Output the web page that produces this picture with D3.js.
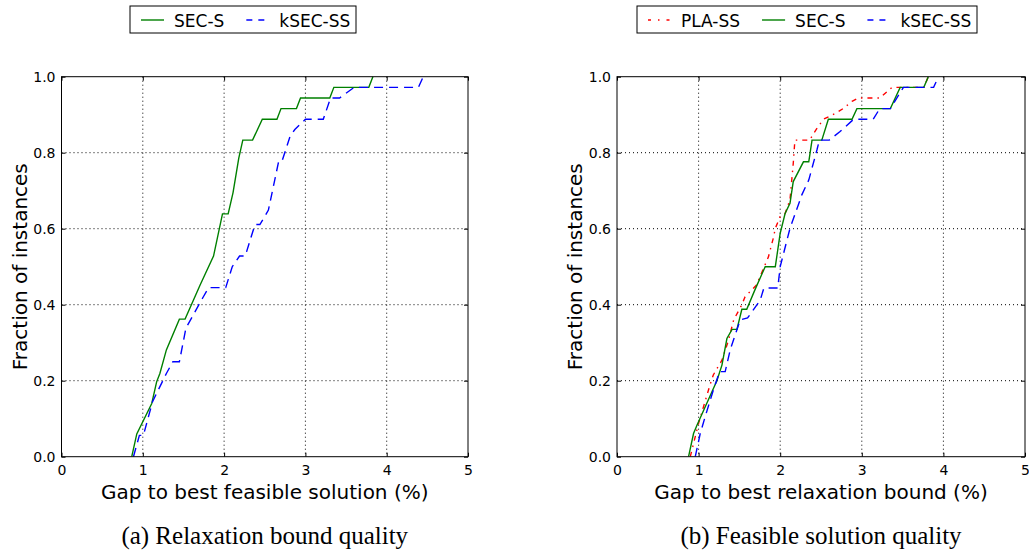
<!DOCTYPE html>
<html><head><meta charset="utf-8">
<script src="https://cdn.jsdelivr.net/npm/d3@7"></script>
<style>body{margin:0;background:#fff}svg{display:block}</style>
</head><body>
<svg id="c" width="1029" height="551"></svg>
<script>
// ---- data ----
const xTicks = [0, 1, 2, 3, 4, 5];
const yTicks = [0.0, 0.2, 0.4, 0.6, 0.8, 1.0];

// Panel (a)
const aSECS = [[0.864,0],[0.926,0.06],[1.11,0.14],[1.17,0.197],[1.21,0.219],[1.29,0.281],[1.45,0.362],[1.52,0.362],[1.705,0.452],[1.87,0.528],[1.98,0.639],[2.05,0.639],[2.11,0.695],[2.18,0.785],[2.23,0.833],[2.35,0.833],[2.47,0.888],[2.65,0.888],[2.70,0.916],[2.89,0.916],[2.94,0.944],[3.30,0.944],[3.35,0.972],[3.78,0.972],[3.83,1.0]];
const aKSECSS = [[0.885,0],[0.958,0.056],[1.007,0.056],[1.12,0.145],[1.29,0.219],[1.37,0.25],[1.45,0.25],[1.53,0.338],[1.62,0.373],[1.745,0.421],[1.81,0.445],[2.02,0.445],[2.10,0.5],[2.19,0.528],[2.26,0.528],[2.38,0.611],[2.44,0.611],[2.50,0.632],[2.545,0.649],[2.67,0.776],[2.71,0.776],[2.81,0.842],[2.87,0.861],[3.0,0.888],[3.22,0.888],[3.31,0.944],[3.42,0.944],[3.60,0.972],[4.39,0.972],[4.45,1.0]];

// Panel (b)
const bPLASS = [[0.898,0],[1.0,0.088],[1.14,0.189],[1.18,0.215],[1.286,0.254],[1.367,0.307],[1.43,0.36],[1.53,0.4],[1.57,0.421],[1.71,0.452],[1.856,0.526],[1.92,0.579],[1.94,0.601],[2.0,0.632],[2.06,0.64],[2.12,0.676],[2.14,0.724],[2.16,0.772],[2.18,0.833],[2.36,0.833],[2.44,0.861],[2.53,0.888],[2.69,0.905],[2.77,0.916],[2.88,0.935],[2.96,0.944],[3.22,0.944],[3.37,0.972],[3.76,0.972],[3.815,1.0]];
const bSECS = [[0.877,0],[0.938,0.061],[0.98,0.083],[1.224,0.2],[1.286,0.241],[1.347,0.311],[1.41,0.335],[1.47,0.335],[1.53,0.388],[1.59,0.388],[1.69,0.439],[1.816,0.5],[1.94,0.5],[2.0,0.588],[2.06,0.64],[2.12,0.667],[2.16,0.724],[2.285,0.776],[2.35,0.776],[2.39,0.833],[2.51,0.833],[2.59,0.888],[2.88,0.888],[2.94,0.916],[3.35,0.916],[3.47,0.972],[3.76,0.972],[3.815,1.0]];
const bKSECSS = [[0.959,0],[1.02,0.061],[1.08,0.105],[1.18,0.175],[1.257,0.224],[1.326,0.224],[1.387,0.281],[1.51,0.36],[1.60,0.365],[1.755,0.412],[1.80,0.444],[1.97,0.444],[2.0,0.5],[2.12,0.601],[2.265,0.689],[2.35,0.728],[2.45,0.807],[2.48,0.833],[2.60,0.833],[2.73,0.855],[2.90,0.888],[3.14,0.888],[3.22,0.916],[3.35,0.916],[3.51,0.972],[3.88,0.972],[3.94,1.0]];

const styles = {
  "PLA-SS": {color:"#ff0000", dash:"5,5,1.5,5", ldash:"3,7,1.5,7"},
  "SEC-S": {color:"#008000", dash:null, ldash:null},
  "kSEC-SS": {color:"#0000ff", dash:"9,6", ldash:"6,6"}
};

const panels = [
  {x0:61.5, x1:468, series:[["SEC-S",aSECS],["kSEC-SS",aKSECSS]],
   xlabel:"Gap to best feasible solution (%)", caption:"(a) Relaxation bound quality",
   legend:{x:130, w:226}},
  {x0:617, x1:1025, series:[["PLA-SS",bPLASS],["SEC-S",bSECS],["kSEC-SS",bKSECSS]],
   xlabel:"Gap to best relaxation bound (%)", caption:"(b) Feasible solution quality",
   legend:{x:637, w:340}}
];

const svg = d3.select("#c");
const yTop = 76.7, yBot = 456.7;
const sans = "'DejaVu Sans', sans-serif";

panels.forEach(p => {
  const x = d3.scaleLinear().domain([0,5]).range([p.x0, p.x1]);
  const y = d3.scaleLinear().domain([0,1]).range([yBot, yTop]);
  const g = svg.append("g");

  // grid
  g.append("g").selectAll("line").data(xTicks.slice(1,-1)).join("line")
    .attr("x1", d=>x(d)).attr("x2", d=>x(d)).attr("y1", yTop).attr("y2", yBot)
    .attr("stroke","#000").attr("stroke-width",1).attr("stroke-dasharray","1,3");
  g.append("g").selectAll("line").data(yTicks.slice(1,-1)).join("line")
    .attr("y1", d=>y(d)).attr("y2", d=>y(d)).attr("x1", p.x0).attr("x2", p.x1)
    .attr("stroke","#000").attr("stroke-width",1).attr("stroke-dasharray","1,3");

  // lines
  const clipId = "clip"+Math.round(p.x0);
  svg.append("clipPath").attr("id", clipId).append("rect")
    .attr("x", p.x0).attr("y", yTop-1).attr("width", p.x1-p.x0).attr("height", yBot-yTop+1);
  const line = d3.line().x(d=>x(d[0])).y(d=>y(d[1]));
  p.series.forEach(([name, data]) => {
    const s = styles[name];
    g.append("path").datum(data).attr("d", line)
      .attr("clip-path", `url(#${clipId})`)
      .attr("fill","none").attr("stroke", s.color).attr("stroke-width",1.4)
      .attr("stroke-dasharray", s.dash);
  });

  // axes (inward ticks)
  const ax = g.append("g").attr("font-family", sans);
  const xb = d3.axisBottom(x).tickValues(xTicks).tickSizeInner(-4).tickSizeOuter(0).tickPadding(8).tickFormat(d3.format("d"));
  const xt = d3.axisTop(x).tickValues(xTicks).tickSizeInner(-4).tickSizeOuter(0).tickFormat("");
  const yl = d3.axisLeft(y).tickValues(yTicks).tickSizeInner(-4).tickSizeOuter(0).tickPadding(6).tickFormat(d3.format(".1f"));
  const yr = d3.axisRight(y).tickValues(yTicks).tickSizeInner(-4).tickSizeOuter(0).tickFormat("");
  [[xb,`translate(0,${yBot})`],[xt,`translate(0,${yTop})`],[yl,`translate(${p.x0},0)`],[yr,`translate(${p.x1},0)`]].forEach(([a,t])=>{
    const gg = ax.append("g").attr("transform", t).call(a);
    gg.select(".domain").remove();
    gg.selectAll("text").attr("font-size", 14).attr("font-family", sans).attr("fill","#000");
    gg.selectAll("line").attr("stroke","#000");
  });
  g.append("rect").attr("x", p.x0).attr("y", yTop).attr("width", p.x1-p.x0).attr("height", yBot-yTop)
    .attr("fill","none").attr("stroke","#000").attr("stroke-width",1);

  // labels
  const cx = (p.x0+p.x1)/2;
  g.append("text").attr("x", cx).attr("y", 499).attr("text-anchor","middle")
    .attr("font-family", sans).attr("font-size", 20).text(p.xlabel);
  g.append("text").attr("transform", `translate(${p.x0-35},${(yTop+yBot)/2}) rotate(-90)`)
    .attr("text-anchor","middle").attr("font-family", sans).attr("font-size", 20).text("Fraction of instances");
  g.append("text").attr("x", cx).attr("y", 544).attr("text-anchor","middle")
    .attr("font-family","'Liberation Serif', serif").attr("font-size", 25).text(p.caption);

  // legend
  const L = g.append("g");
  L.append("rect").attr("x", p.legend.x).attr("y", 6).attr("width", p.legend.w).attr("height", 27)
    .attr("fill","#fff").attr("stroke","#000").attr("stroke-width",1);
  let lx = p.legend.x + 11;
  p.series.forEach(([name]) => {
    const s = styles[name];
    L.append("line").attr("x1", lx).attr("x2", lx+23).attr("y1", 20).attr("y2", 20)
      .attr("stroke", s.color).attr("stroke-width", 1.4).attr("stroke-dasharray", s.ldash);
    const t = L.append("text").attr("x", lx+33).attr("y", 26.5).attr("font-family", sans)
      .attr("font-size", 17).text(name);
    lx = lx + 33 + t.node().getComputedTextLength() + 22;
  });
});
</script>
</body></html>
